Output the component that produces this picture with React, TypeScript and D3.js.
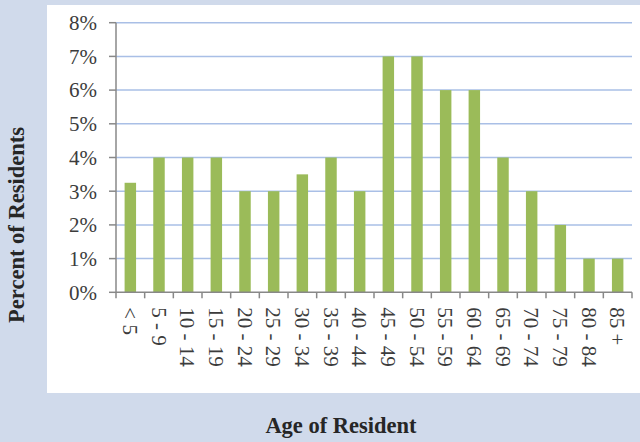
import React from "react";
import * as d3 from "d3";

const ageGroups = [
  "< 5", "5 - 9", "10 - 14", "15 - 19", "20 - 24", "25 - 29", "30 - 34", "35 - 39", "40 - 44",
  "45 - 49", "50 - 54", "55 - 59", "60 - 64", "65 - 69", "70 - 74", "75 - 79", "80 - 84", "85 +",
];
const percentResidents = [3.25, 4, 4, 4, 3, 3, 3.5, 4, 3, 7, 7, 6, 6, 4, 3, 2, 1, 1];
const yTicks = [0, 1, 2, 3, 4, 5, 6, 7, 8];

const W = 640;
const H = 442;
const plot = { left: 116, right: 632, top: 22.7, bottom: 292.3 };
const serif = "'Liberation Serif', 'DejaVu Serif', serif";

const App = () => {
  const x = d3.scaleBand<string>().domain(ageGroups).range([plot.left, plot.right]).paddingInner(0.6).paddingOuter(0.3);
  const xb = d3.scaleBand<string>().domain(ageGroups).range([plot.left, plot.right]);
  const y = d3.scaleLinear().domain([0, 8]).range([plot.bottom, plot.top]);

  const boundaries = ageGroups.map((g) => xb(g) as number).concat([plot.right]);

  return (
    <svg
      width={W}
      height={H}
      style={{ position: "absolute", left: 0, top: 0, display: "block" }}
      fontFamily={serif}
    >
      <rect x={0} y={0} width={W} height={H} fill="#d0daeb" />
      <rect x={47} y={5} width={W - 47} height={388} fill="#ffffff" />

      {/* gridlines */}
      {yTicks.filter((t) => t > 0).map((t) => (
        <line key={t} x1={plot.left} x2={plot.right} y1={y(t)} y2={y(t)} stroke="#a9bfe6" strokeWidth={1.5} />
      ))}

      {/* bars */}
      {percentResidents.map((v, i) => (
        <rect
          key={ageGroups[i]}
          x={x(ageGroups[i])}
          y={y(v)}
          width={x.bandwidth()}
          height={y(0) - y(v)}
          fill="#9bbb59"
        />
      ))}

      {/* y axis */}
      <line x1={plot.left} x2={plot.left} y1={plot.top} y2={plot.bottom} stroke="#888" strokeWidth={1.5} />
      {yTicks.map((t) => (
        <g key={t}>
          <line x1={plot.left - 7} x2={plot.left} y1={y(t)} y2={y(t)} stroke="#888" strokeWidth={1.5} />
          <text x={97} y={y(t)} dy="0.35em" textAnchor="end" fontSize={21} fill="#3c3c3c">
            {t}%
          </text>
        </g>
      ))}

      {/* x axis */}
      <line x1={plot.left} x2={plot.right} y1={plot.bottom} y2={plot.bottom} stroke="#888" strokeWidth={1.5} />
      {boundaries.map((b, i) => (
        <line key={i} x1={b} x2={b} y1={plot.bottom} y2={plot.bottom + 6} stroke="#888" strokeWidth={1.5} />
      ))}
      {ageGroups.map((g) => {
        const cx = (xb(g) as number) + xb.bandwidth() / 2;
        return (
          <text
            key={g}
            transform={`translate(${cx},${plot.bottom + 15}) rotate(90)`}
            dy="0.35em"
            textAnchor="start"
            fontSize={21}
            fill="#3c3c3c"
          >
            {g}
          </text>
        );
      })}

      {/* titles */}
      <text
        transform={`translate(16,225) rotate(-90)`}
        dy="0.35em"
        textAnchor="middle"
        fontSize={22.5}
        fontWeight="bold"
        fill="#262626"
      >
        Percent of Residents
      </text>
      <text x={341} y={433} textAnchor="middle" fontSize={22.5} fontWeight="bold" fill="#262626">
        Age of Resident
      </text>
    </svg>
  );
};

export default App;
